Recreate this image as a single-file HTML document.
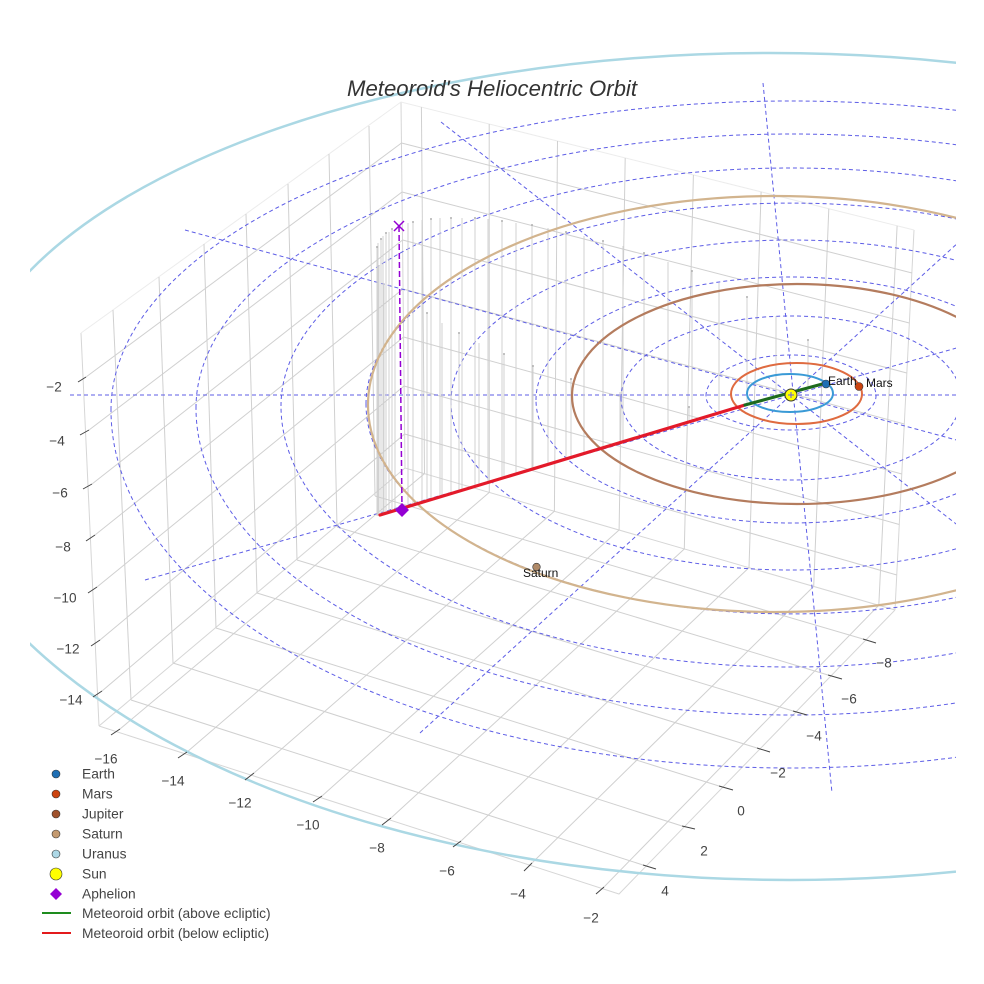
<!DOCTYPE html>
<html><head><meta charset="utf-8"><style>
html,body{margin:0;padding:0;background:#fff;}
svg{display:block;font-family:"Liberation Sans",Arial,sans-serif;}
</style></head><body>
<svg width="984" height="984" viewBox="0 0 984 984" xmlns="http://www.w3.org/2000/svg">
<defs><clipPath id="c"><rect x="30" y="0" width="926" height="984"/></clipPath></defs>
<rect width="984" height="984" fill="#fff"/>
<g clip-path="url(#c)">
<!-- box edges -->
<g stroke="#d6d6d6" stroke-width="1" fill="none">
<path d="M99,726L619,894L895,610M99,726L405,468L895,610M99,726L81,333M405,468L401,102M895,610L914,230"/>
</g>
<g stroke="#ececec" stroke-width="1" fill="none"><path d="M81,333L401,102L914,230"/></g>
<!-- grid -->
<g stroke="#d0d0d0" stroke-width="1" fill="none">
<path d="M120,729L424.5,473.6M187,752L489.3,492.4M254,773L554.4,511.3M322,796L619.1,530M391,818L684.3,549M461,841L749,567.6M532,863L813.7,586.4M604,887L878.8,605.3"/>
<path d="M131,700L643,865M173,663L682,826M216,628L719,786M257,593L757,748M297,560L793,711M337,527L828,675M375,496L863,639"/>
<path d="M131,700L113,310M173,663L159,277M216,628L204,244M257,593L246,214M297,560L288,184M337,527L329,154M375,496L369,126"/>
<path d="M86,377L401.5,143M89,430L402,192M92,484L402.6,240M95,535L403,289M97,587L403.6,337M100,640L404,386M102,691L404.6,434"/>
<path d="M424.5,473.6L421.4,107.1M489.3,492.4L489.2,124M554.4,511.3L557.5,141M619.1,530L625.2,158M684.3,549L693.4,175M749,567.6L761.1,191.9M813.7,586.4L828.8,208.8M878.8,605.3L897.1,225.8"/>
<path d="M401.5,143L912,273M402,192L909.3,323M402.6,240L906.8,373M403,289L904.3,424M403.6,337L901.8,474M404,386L899.3,524.5M404.6,434L896.8,575"/>
</g>
<!-- dashed ecliptic rings -->
<g stroke="#5d5de6" stroke-width="1" fill="none" stroke-dasharray="4,3">
<path d="M706,396A85,41 0 0 1 876,396A85,34 0 0 1 706,396"/>
<path d="M621,398A170,82 0 0 1 961,398A170,82 0 0 1 621,398"/>
<path d="M536,400A255,123 0 0 1 1046,400A255,123 0 0 1 536,400"/>
<path d="M451,402A340,162 0 0 1 1131,402A340,168 0 0 1 451,402"/>
<path d="M366,404A425,201 0 0 1 1216,404A425,210 0 0 1 366,404"/>
<path d="M281,406A510,238 0 0 1 1301,406A510,261 0 0 1 281,406"/>
<path d="M196,408A595,274 0 0 1 1386,408A595,307 0 0 1 196,408"/>
<path d="M111,410A680,309 0 0 1 1471,410A680,358 0 0 1 111,410"/>
<path d="M70,395L960,395M763,83L832,793M185,230L960,441M441,122L960,527M145,580L960,347M420,733L960,241"/>
</g>
<!-- drop lines -->
<g stroke="#cdcdcd" stroke-width="0.9" fill="none">
<path d="M377,247L377,516M378,243L378,515.6M381,239L381,514.7M383,236L383,514.1M386,233L386,513.2M389,232L389,512.3M392,229L392,511.4M408,223L408,506.6M413,222L413,505.1M422,220L422,502.3M431,219L431,499.6M440,218L440,496.9M451,218L451,493.6M462,218L462,490.3M475,218L475,486.4M488,219L488,482.4M502,221L502,478.2M516,223L516,474M532,225L532,469.2M548,228L548,464.4M566,232L566,459M584,236L584,453.5M603,241L603,447.8M623,246L623,441.8M644,253L644,435.4M668,262L668,428.2M692,271L692,421M719,283L719,412.8M747,297L747,404.5M776,316L776,396.6M808,340L808,387.9"/>
<path d="M379,265L379,515.3M384,283L384,513.8M395,295L395,510.5M427,313L427,500.8M442,323L442,496.3M459,333L459,491.2M479,343L479,485.2M504,354L504,477.6M533,366L533,468.9M571,379L571,457.4M620,392L620,442.7M689,407L689,421.9"/>
</g>
<g fill="#b0b0b0">
<circle cx="377" cy="247" r="1"/><circle cx="381" cy="239" r="1"/><circle cx="386" cy="233" r="1"/><circle cx="392" cy="229" r="1"/><circle cx="413" cy="222" r="1"/><circle cx="431" cy="219" r="1"/><circle cx="451" cy="218" r="1"/><circle cx="475" cy="218" r="1"/><circle cx="502" cy="221" r="1"/><circle cx="532" cy="225" r="1"/><circle cx="566" cy="232" r="1"/><circle cx="603" cy="241" r="1"/><circle cx="644" cy="253" r="1"/><circle cx="692" cy="271" r="1"/><circle cx="747" cy="297" r="1"/><circle cx="808" cy="340" r="1"/><circle cx="427" cy="313" r="1"/><circle cx="459" cy="333" r="1"/><circle cx="504" cy="354" r="1"/><circle cx="533" cy="366" r="1"/><circle cx="571" cy="379" r="1"/><circle cx="689" cy="407" r="1"/>
</g>
<!-- planet orbits -->
<g fill="none">
<path d="M368,405A407,209 0 0 1 1182,405A407,207 0 0 1 368,405" stroke="#d2b48e" stroke-width="2.2"/>
<path d="M572,396A225,112 0 0 1 1022,396A225,108 0 0 1 572,396" stroke="#b47c5e" stroke-width="2.2"/>
<path d="M731,394A65.5,31 0 0 1 862,394A65.5,30 0 0 1 731,394" stroke="#df6b40" stroke-width="2"/>
<path d="M747,393.5A43,19.5 0 0 1 833,393.5A43,18.5 0 0 1 747,393.5" stroke="#3a9ad6" stroke-width="2"/>
<path d="M-40,420A810,367 0 0 1 1580,420" stroke="#abd8e4" stroke-width="2.5"/>
<path d="M1660,420A870,460 0 0 1 -80,420" stroke="#abd8e4" stroke-width="2.5"/>
</g>
<!-- aphelion dashed -->
<path d="M399,226L402,510" stroke="#9400d3" stroke-width="1.5" stroke-dasharray="6,3" fill="none"/>
<path d="M394,221L404,231M404,221L394,231" stroke="#9400d3" stroke-width="1.5"/>
<!-- meteoroid orbit -->
<path d="M380,515L745,405" stroke="#e31a2a" stroke-width="3.2" stroke-linecap="round"/>
<path d="M745,405L826,383" stroke="#1d6a1d" stroke-width="3.2" stroke-linecap="round"/>
<path d="M402,503L409,510L402,517L395,510Z" fill="#9400d3"/>
<!-- markers -->
<circle cx="791" cy="395" r="6" fill="#ffff00" stroke="#333" stroke-width="1"/>
<path d="M788,395L794,395M791,392L791,398" stroke="#5d5de6" stroke-width="1"/>
<circle cx="826" cy="384" r="4" fill="#1f6fb4" stroke="#333" stroke-width="0.6"/>
<circle cx="859" cy="386.5" r="4" fill="#cc4410" stroke="#333" stroke-width="0.6"/>
<circle cx="536.5" cy="567" r="3.8" fill="#b08a68" stroke="#333" stroke-width="0.6"/>
<g font-size="12" fill="#111">
<text x="828" y="385">Earth</text>
<text x="866" y="387">Mars</text>
<text x="523" y="577">Saturn</text>
</g>
</g>
<!-- ticks -->
<g stroke="#444" stroke-width="1">
<path d="M86,377L78,382M89,430L80,435M92,484L83,489M95,535L86,541M97,587L88,593M100,640L91,646M102,691L93,697"/>
<path d="M120,729L111,735M187,752L178,758M254,773L245,780M322,796L313,802M391,818L382,825M461,841L453,847M532,863L524,871M604,887L596,894"/>
<path d="M643,865L656,869M682,826L695,829M719,786L733,790M757,748L770,752M793,711L807,715M828,675L842,679M863,639L876,643"/>
</g>
<g font-size="13.6" fill="#444" text-anchor="middle">
<text x="54" y="391.5">−2</text><text x="57" y="445.5">−4</text><text x="60" y="497.5">−6</text><text x="63" y="551.5">−8</text><text x="65" y="602.5">−10</text><text x="68" y="653.5">−12</text><text x="71" y="704.5">−14</text>
<text x="106" y="763.5">−16</text><text x="173" y="785.5">−14</text><text x="240" y="807.5">−12</text><text x="308" y="829.5">−10</text><text x="377" y="852.5">−8</text><text x="447" y="875.5">−6</text><text x="518" y="898.5">−4</text><text x="591" y="922.5">−2</text>
<text x="884" y="667.5">−8</text><text x="849" y="703.5">−6</text><text x="814" y="740.5">−4</text><text x="778" y="777.5">−2</text><text x="741" y="815.5">0</text><text x="704" y="855.5">2</text><text x="665" y="895.5">4</text>
</g>
<!-- title -->
<text x="347" y="96" font-size="22" font-style="italic" fill="#333" textLength="290" lengthAdjust="spacingAndGlyphs">Meteoroid's Heliocentric Orbit</text>
<!-- legend -->
<g stroke="#333" stroke-width="0.6">
<circle cx="56" cy="774" r="4" fill="#1f6fb4"/>
<circle cx="56" cy="794" r="4" fill="#cc4410"/>
<circle cx="56" cy="814" r="4" fill="#a0522d"/>
<circle cx="56" cy="834" r="4" fill="#c49a70"/>
<circle cx="56" cy="854" r="4" fill="#add8e6"/>
<circle cx="56" cy="874" r="6" fill="#ffff00"/>
</g>
<path d="M56,888L62,894L56,900L50,894Z" fill="#9400d3"/>
<path d="M42,913L71,913" stroke="#1e8c1e" stroke-width="2"/>
<path d="M42,933L71,933" stroke="#e31a1c" stroke-width="2"/>
<g font-size="13.8" fill="#444">
<text x="82" y="778.5">Earth</text>
<text x="82" y="798.5">Mars</text>
<text x="82" y="818.5">Jupiter</text>
<text x="82" y="838.5">Saturn</text>
<text x="82" y="858.5">Uranus</text>
<text x="82" y="878.5">Sun</text>
<text x="82" y="898.5">Aphelion</text>
<text x="82" y="918">Meteoroid orbit (above ecliptic)</text>
<text x="82" y="938">Meteoroid orbit (below ecliptic)</text>
</g>
</svg>
</body></html>
